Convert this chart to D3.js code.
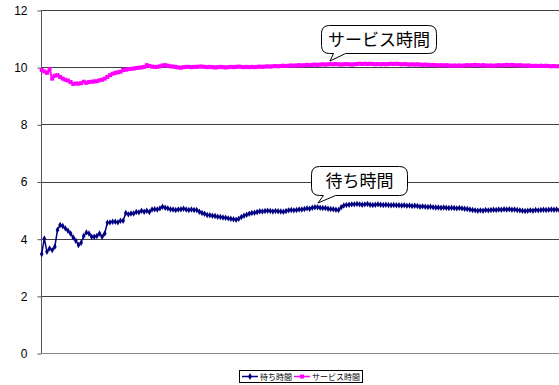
<!DOCTYPE html>
<html><head><meta charset="utf-8">
<script src="https://cdn.jsdelivr.net/npm/d3@7"></script>
<style>body{margin:0;background:#fff}svg{display:block}</style>
</head><body><div id="chart"></div>
<script>
const yTicks = [0, 2, 4, 6, 8, 10, 12];
const seriesNames = ["待ち時間", "サービス時間"];
const waitTime = [
3.46,4.01,3.54,3.66,3.6,3.72,4.3,4.48,4.44,4.36,4.28,4.18,4.04,3.93,3.78,3.86,4.09,4.22,4.18,4.07,
4.07,4.09,4.18,4.07,4.18,4.56,4.57,4.59,4.59,4.57,4.63,4.63,4.9,4.85,4.88,4.88,4.93,4.92,4.98,4.94,
4.98,4.93,5.02,5.03,5.02,5.06,5.12,5.08,5.06,5.03,5.02,5.0,5.02,5.03,5.05,5.02,5.0,5.02,5.0,5.0,
4.94,4.9,4.87,4.83,4.82,4.8,4.79,4.77,4.76,4.74,4.73,4.71,4.7,4.68,4.66,4.7,4.76,4.8,4.84,4.87,
4.9,4.91,4.93,4.96,4.95,4.97,4.98,4.97,4.95,4.97,4.96,4.95,4.94,4.97,4.99,5.0,4.99,5.0,5.02,5.02,
5.04,5.06,5.05,5.08,5.1,5.1,5.08,5.07,5.07,5.05,5.04,5.03,5.01,5.0,5.1,5.16,5.18,5.19,5.2,5.2,
5.21,5.2,5.19,5.2,5.21,5.19,5.18,5.19,5.2,5.19,5.18,5.19,5.18,5.17,5.18,5.17,5.17,5.16,5.17,5.15,
5.16,5.14,5.15,5.14,5.12,5.13,5.12,5.11,5.12,5.1,5.09,5.09,5.08,5.09,5.08,5.07,5.08,5.07,5.06,5.07,
5.06,5.05,5.04,5.02,5.0,4.99,4.98,4.99,4.98,5.0,4.99,5.0,5.01,5.0,5.02,5.01,5.03,5.02,5.03,5.01,
5.02,5.0,4.99,4.98,4.97,4.98,4.99,4.98,5.0,4.99,5.0,5.01,5.0,5.01,5.02,5.01,5.02,5.0,5.01,5.0
];
const serviceTime = [
9.9,9.85,9.8,9.93,9.6,9.7,9.72,9.66,9.6,9.56,9.53,9.48,9.41,9.43,9.42,9.44,9.49,9.45,9.48,9.49,
9.5,9.51,9.54,9.56,9.6,9.66,9.72,9.77,9.8,9.82,9.84,9.9,9.91,9.93,9.94,9.95,9.97,9.98,9.99,10.01,
10.07,10.04,10.02,10.01,10.01,10.03,10.06,10.07,10.05,10.03,10.02,10.01,9.99,9.98,10.0,10.01,10.01,10.0,10.01,10.01,
10.02,10.02,10.01,10.0,10.01,10.0,9.99,10.0,10.01,10.0,9.99,10.0,10.01,10.0,10.01,10.02,10.01,10.0,10.01,10.0,
10.01,10.0,10.01,10.02,10.01,10.02,10.03,10.02,10.03,10.04,10.03,10.04,10.05,10.04,10.05,10.06,10.05,10.06,10.07,10.06,
10.07,10.08,10.07,10.08,10.09,10.08,10.09,10.1,10.09,10.1,10.11,10.1,10.11,10.1,10.09,10.1,10.11,10.1,10.09,10.1,
10.11,10.12,10.11,10.12,10.11,10.12,10.11,10.1,10.11,10.1,10.11,10.1,10.11,10.12,10.11,10.12,10.11,10.1,10.11,10.1,
10.09,10.1,10.09,10.1,10.09,10.08,10.09,10.08,10.07,10.08,10.07,10.06,10.07,10.06,10.07,10.06,10.05,10.06,10.05,10.06,
10.05,10.06,10.07,10.06,10.07,10.08,10.07,10.06,10.07,10.06,10.05,10.06,10.05,10.06,10.07,10.06,10.07,10.08,10.07,10.08,
10.07,10.06,10.07,10.06,10.05,10.06,10.05,10.04,10.05,10.04,10.05,10.04,10.05,10.04,10.03,10.04,10.03,10.04,10.03,10.04
];
const colors = ["#000080", "#FF00FF"];

const W = 559, H = 385;
const svg = d3.select("#chart").append("svg").attr("width", W).attr("height", H);
const y = d3.scaleLinear().domain([0, 12]).range([353, 10]);
const x = d3.scaleLinear().domain([0, waitTime.length - 1]).range([41.7, 564.5]);
const left = 41, right = 560;

// gridlines
svg.append("g").selectAll("line").data(yTicks.filter(d => d > 0)).join("line")
  .attr("x1", left).attr("x2", right)
  .attr("y1", d => Math.round(y(d)) + 0.5).attr("y2", d => Math.round(y(d)) + 0.5)
  .attr("stroke", "#404040").attr("stroke-width", 1);

// y axis
const yAxis = d3.axisLeft(y).tickValues(yTicks).tickSize(4).tickPadding(10).tickFormat(d3.format("d"));
const gy = svg.append("g").attr("transform", `translate(${left + 0.5},0.5)`).call(yAxis);
gy.select(".domain").attr("stroke", "#555").attr("d", `M-0,${y(12)}V${y(0)}`);
gy.selectAll(".tick line").attr("stroke", "#555");
gy.selectAll(".tick text").attr("font-family", "Liberation Sans, Arial, sans-serif").attr("font-size", 12).attr("fill", "#000");
// bottom axis line
svg.append("line").attr("x1", left).attr("x2", right).attr("y1", Math.round(y(0)) + 0.5).attr("y2", Math.round(y(0)) + 0.5)
  .attr("stroke", "#888").attr("stroke-width", 1);

const line = d3.line().x((d, i) => x(i)).y(d => y(d));
// service
svg.append("path").datum(serviceTime).attr("d", line).attr("fill", "none").attr("stroke", colors[1]).attr("stroke-width", 2);
svg.append("g").selectAll("rect").data(serviceTime).join("rect")
  .attr("x", (d, i) => x(i) - 2).attr("y", d => y(d) - 2).attr("width", 4).attr("height", 4).attr("fill", colors[1]);
// wait
svg.append("path").datum(waitTime).attr("d", line).attr("fill", "none").attr("stroke", colors[0]).attr("stroke-width", 1.5);
const diamond = d3.symbol().type(d3.symbolDiamond).size(12);
svg.append("g").selectAll("path").data(waitTime).join("path")
  .attr("transform", (d, i) => `translate(${x(i)},${y(d)})`).attr("d", diamond).attr("fill", colors[0]);

// callouts
function callout(x0, y0, w, h, tx, ty, text) {
  const r = 8;
  const tb = x0 + 12, te = x0 + 24;
  const p = `M${x0 + r},${y0} H${x0 + w - r} Q${x0 + w},${y0} ${x0 + w},${y0 + r} V${y0 + h - r} Q${x0 + w},${y0 + h} ${x0 + w - r},${y0 + h}
    H${te} L${tx},${ty} L${tb},${y0 + h} H${x0 + r} Q${x0},${y0 + h} ${x0},${y0 + h - r} V${y0 + r} Q${x0},${y0} ${x0 + r},${y0} Z`;
  svg.append("path").attr("d", p).attr("fill", "#fff").attr("stroke", "#000").attr("stroke-width", 1);
  svg.append("text").attr("x", x0 + w / 2).attr("y", y0 + h / 2 + 6).attr("text-anchor", "middle")
    .attr("font-family", "Noto Sans CJK JP, sans-serif").attr("font-size", 17).attr("fill", "#000").text(text);
}
callout(321.5, 25.5, 115, 28, 330, 61, seriesNames[1]);
callout(311.5, 166.5, 96, 29, 318, 203, seriesNames[0]);

// legend
const lg = svg.append("g");
lg.append("rect").attr("x", 239.5).attr("y", 370.5).attr("width", 123).attr("height", 12).attr("fill", "#fff").attr("stroke", "#000");
const items = [{x: 242, c: colors[0], t: seriesNames[0], m: "d"}, {x: 294, c: colors[1], t: seriesNames[1], m: "s"}];
items.forEach(it => {
  lg.append("line").attr("x1", it.x).attr("x2", it.x + 16).attr("y1", 376.5).attr("y2", 376.5).attr("stroke", it.c).attr("stroke-width", 1.5);
  if (it.m === "d") lg.append("path").attr("transform", `translate(${it.x + 8},376.5)`).attr("d", d3.symbol().type(d3.symbolDiamond).size(14)).attr("fill", it.c);
  else lg.append("rect").attr("x", it.x + 6).attr("y", 374.5).attr("width", 4).attr("height", 4).attr("fill", it.c);
  lg.append("text").attr("x", it.x + 18).attr("y", 379.5).attr("font-family", "Noto Sans CJK JP, sans-serif").attr("font-size", 8).attr("fill", "#000").text(it.t);
});
</script></body></html>
